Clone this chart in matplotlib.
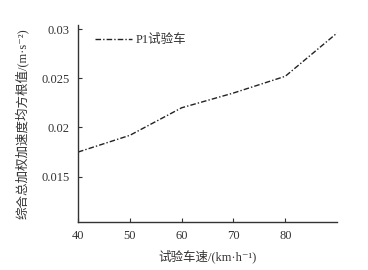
import matplotlib
matplotlib.use('Agg')
from matplotlib import pyplot as plt

speed = [40, 50, 60, 70, 80, 90]
rms_acc = [0.0175, 0.0192, 0.0220, 0.0235, 0.0252, 0.0296]
series_name = 'P1试验车'
x_ticks = [40, 50, 60, 70, 80]
y_ticks = [0.015, 0.02, 0.025, 0.03]
y_tick_labels = ['0.015', '0.02', '0.025', '0.03']

fam = ['Liberation Serif', 'Noto Sans CJK SC', 'DejaVu Serif']
plt.rcParams['font.family'] = fam
tc = '#333333'

fig = plt.figure(figsize=(3.68, 2.70), dpi=100)
ax = fig.add_axes([0.212, 0.178, 0.704, 0.729])
ax.plot(speed, rms_acc, color='#222222', lw=1.0, linestyle=(0, (4, 1.5, 1, 1.5)), label=series_name)
ax.set_xlim(40, 90)
ax.set_ylim(0.0104, 0.0304)
ax.set_xticks(x_ticks)
ax.set_yticks(y_ticks)
ax.set_yticklabels(y_tick_labels)
for s in ['top', 'right']:
    ax.spines[s].set_visible(False)
for s in ['left', 'bottom']:
    ax.spines[s].set_color('#333333')
    ax.spines[s].set_linewidth(1.0)
ax.tick_params(direction='in', length=3, width=0.8, colors=tc, labelsize=9, pad=6)
ax.set_xlabel('试验车速/(km·h⁻¹)', fontsize=9, color=tc, labelpad=5)
ax.set_ylabel('综合总加权加速度均方根值/(m·s⁻²)', fontsize=9, color=tc, labelpad=9)
leg = ax.legend(loc='upper left', frameon=False, fontsize=9, handlelength=3.0,
                handletextpad=0.3, borderaxespad=0.3, bbox_to_anchor=(0.03, 1.0))
for t in leg.get_texts():
    t.set_color(tc)

fig.savefig('out.png', dpi=100)
